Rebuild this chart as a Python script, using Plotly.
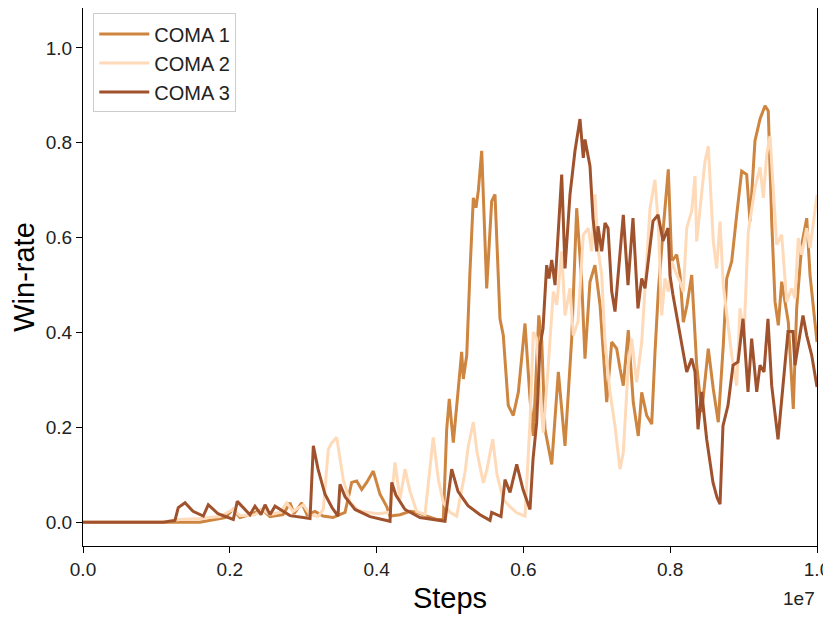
import numpy as np
import plotly.graph_objects as go

# steps in units of 1e6, win-rate values
coma1_x = [0, 1.594, 1.935, 2.044, 2.139, 2.275, 2.439, 2.548, 2.725, 2.820, 2.875, 2.980, 3.052,
           3.161, 3.270, 3.406, 3.570, 3.661, 3.729, 3.797, 3.865, 3.955, 4.046, 4.138, 4.183,
           4.319, 4.455, 4.546, 4.683, 4.819, 4.909, 4.955, 4.990, 5.045, 5.113, 5.159, 5.181,
           5.228, 5.272, 5.318, 5.354, 5.386, 5.432, 5.500, 5.568, 5.613, 5.681, 5.726, 5.794,
           5.862, 5.931, 6.022, 6.090, 6.135, 6.210, 6.250, 6.294, 6.339, 6.386, 6.476, 6.567,
           6.658, 6.726, 6.794, 6.839, 6.907, 6.975, 7.044, 7.135, 7.203, 7.271, 7.316, 7.361,
           7.429, 7.497, 7.565, 7.612, 7.680, 7.748, 7.793, 7.838, 7.906, 7.974, 8.020, 8.089,
           8.134, 8.179, 8.229, 8.293, 8.361, 8.429, 8.519, 8.587, 8.655, 8.723, 8.770, 8.838,
           8.906, 8.974, 9.042, 9.087, 9.155, 9.224, 9.292, 9.336, 9.383, 9.428, 9.473, 9.519,
           9.609, 9.677, 9.723, 9.792, 9.860, 9.905, 10.0]
coma1_y = [0, 0, 0.010, 0.027, 0.010, 0.016, 0.027, 0.012, 0.016, 0.041, 0.018, 0.041, 0.016,
           0.023, 0.013, 0.010, 0.021, 0.084, 0.087, 0.069, 0.084, 0.108, 0.059, 0.033, 0.013,
           0.016, 0.023, 0.021, 0.013, 0.006, 0.006, 0.196, 0.260, 0.168, 0.281, 0.359, 0.302,
           0.352, 0.528, 0.684, 0.663, 0.699, 0.783, 0.493, 0.677, 0.691, 0.429, 0.394, 0.246,
           0.225, 0.274, 0.419, 0.260, 0.182, 0.436, 0.381, 0.196, 0.161, 0.122, 0.317, 0.161,
           0.387, 0.662, 0.507, 0.345, 0.507, 0.542, 0.458, 0.253, 0.380, 0.366, 0.324, 0.288,
           0.405, 0.253, 0.182, 0.274, 0.225, 0.207, 0.359, 0.486, 0.620, 0.744, 0.550, 0.564,
           0.521, 0.422, 0.458, 0.521, 0.331, 0.232, 0.366, 0.281, 0.211, 0.373, 0.514, 0.550,
           0.648, 0.740, 0.733, 0.634, 0.804, 0.850, 0.878, 0.867, 0.634, 0.465, 0.415, 0.507,
           0.422, 0.239, 0.451, 0.585, 0.641, 0.521, 0.380]

coma2_x = [0, 1.049, 1.322, 1.594, 1.866, 2.044, 2.139, 2.343, 2.439, 2.548, 2.684, 2.775, 2.861,
           3.001, 3.093, 3.202, 3.274, 3.342, 3.388, 3.456, 3.546, 3.638, 3.747, 3.865, 4.019,
           4.183, 4.251, 4.319, 4.387, 4.455, 4.546, 4.659, 4.772, 4.841, 4.909, 5.000, 5.091,
           5.204, 5.249, 5.318, 5.368, 5.454, 5.504, 5.582, 5.640, 5.726, 5.817, 5.909, 6.022,
           6.090, 6.135, 6.181, 6.226, 6.271, 6.339, 6.408, 6.454, 6.522, 6.567, 6.635, 6.680,
           6.744, 6.816, 6.884, 6.930, 6.975, 7.021, 7.067, 7.112, 7.180, 7.248, 7.316, 7.361,
           7.429, 7.475, 7.543, 7.612, 7.657, 7.725, 7.793, 7.838, 7.884, 7.929, 7.974, 8.020,
           8.079, 8.134, 8.179, 8.225, 8.293, 8.338, 8.361, 8.429, 8.474, 8.519, 8.587, 8.633,
           8.679, 8.723, 8.770, 8.838, 8.906, 8.951, 9.006, 9.064, 9.155, 9.224, 9.269, 9.315,
           9.360, 9.406, 9.451, 9.519, 9.587, 9.655, 9.700, 9.745, 9.792, 9.860, 9.905, 10.0]
coma2_y = [0, 0, 0.006, 0.008, 0.012, 0.027, 0.014, 0.016, 0.027, 0.016, 0.021, 0.041, 0.023,
           0.037, 0.016, 0.012, 0.027, 0.154, 0.167, 0.179, 0.090, 0.042, 0.025, 0.021, 0.018,
           0.021, 0.126, 0.048, 0.112, 0.065, 0.023, 0.016, 0.179, 0.090, 0.042, 0.021, 0.013,
           0.105, 0.161, 0.211, 0.148, 0.083, 0.112, 0.175, 0.101, 0.048, 0.033, 0.020, 0.013,
           0.211, 0.401, 0.387, 0.271, 0.189, 0.331, 0.486, 0.458, 0.571, 0.436, 0.493, 0.394,
           0.423, 0.606, 0.620, 0.571, 0.691, 0.571, 0.521, 0.380, 0.274, 0.203, 0.112, 0.147,
           0.331, 0.387, 0.295, 0.380, 0.493, 0.662, 0.722, 0.627, 0.436, 0.514, 0.486, 0.550,
           0.525, 0.507, 0.486, 0.620, 0.656, 0.730, 0.592, 0.698, 0.761, 0.793, 0.592, 0.535,
           0.634, 0.500, 0.436, 0.352, 0.288, 0.451, 0.396, 0.613, 0.705, 0.748, 0.684, 0.775,
           0.814, 0.684, 0.585, 0.606, 0.465, 0.493, 0.472, 0.599, 0.564, 0.620, 0.578, 0.690]

coma3_x = [0, 1.090, 1.253, 1.298, 1.390, 1.499, 1.639, 1.707, 1.839, 2.048, 2.102, 2.275, 2.343,
           2.425, 2.480, 2.548, 2.616, 2.820, 3.048, 3.093, 3.138, 3.202, 3.297, 3.392, 3.474,
           3.501, 3.570, 3.706, 3.910, 4.183, 4.206, 4.264, 4.387, 4.591, 4.932, 5.023, 5.109,
           5.245, 5.409, 5.545, 5.568, 5.695, 5.749, 5.818, 5.909, 5.995, 6.090, 6.131, 6.181,
           6.226, 6.267, 6.317, 6.349, 6.386, 6.431, 6.522, 6.567, 6.635, 6.703, 6.771, 6.816,
           6.839, 6.907, 6.948, 6.999, 7.016, 7.067, 7.112, 7.153, 7.203, 7.248, 7.289, 7.361,
           7.425, 7.493, 7.561, 7.612, 7.657, 7.698, 7.766, 7.834, 7.902, 7.970, 7.997, 8.038,
           8.106, 8.157, 8.225, 8.293, 8.338, 8.379, 8.429, 8.497, 8.583, 8.638, 8.679, 8.719,
           8.787, 8.856, 8.924, 8.992, 9.060, 9.110, 9.179, 9.224, 9.278, 9.332, 9.383, 9.469,
           9.519, 9.605, 9.673, 9.700, 9.809, 9.860, 9.928, 10.0]
coma3_y = [0, 0, 0.004, 0.031, 0.041, 0.023, 0.013, 0.037, 0.018, 0.006, 0.044, 0.016, 0.034,
           0.016, 0.037, 0.016, 0.034, 0.014, 0.009, 0.008, 0.161, 0.112, 0.059, 0.031, 0.013,
           0.080, 0.054, 0.027, 0.012, 0.002, 0.084, 0.057, 0.027, 0.010, 0.002, 0.112, 0.065,
           0.035, 0.016, 0.004, 0.021, 0.012, 0.090, 0.063, 0.122, 0.069, 0.027, 0.133, 0.211,
           0.373, 0.408, 0.542, 0.514, 0.553, 0.500, 0.733, 0.535, 0.691, 0.783, 0.850, 0.768,
           0.807, 0.751, 0.641, 0.571, 0.624, 0.571, 0.631, 0.620, 0.487, 0.444, 0.521, 0.648,
           0.500, 0.641, 0.451, 0.514, 0.493, 0.550, 0.635, 0.648, 0.593, 0.620, 0.521, 0.479,
           0.423, 0.381, 0.317, 0.345, 0.317, 0.196, 0.275, 0.175, 0.084, 0.052, 0.038, 0.203,
           0.246, 0.331, 0.338, 0.429, 0.275, 0.387, 0.275, 0.331, 0.317, 0.429, 0.288, 0.175,
           0.254, 0.402, 0.402, 0.331, 0.436, 0.394, 0.352, 0.285]

series = [
    ("COMA 1", coma1_x, coma1_y, "#CD853F"),
    ("COMA 2", coma2_x, coma2_y, "#FFDAB9"),
    ("COMA 3", coma3_x, coma3_y, "#A0522D"),
]

tick_vals = [0, 2e6, 4e6, 6e6, 8e6, 1e7]
tick_text = ["0.0", "0.2", "0.4", "0.6", "0.8", "1.0"]

fig = go.Figure()
for name, xs, ys, color in series:
    fig.add_trace(go.Scatter(
        x=np.array(xs) * 1e6, y=ys, mode="lines", name=name,
        line=dict(color=color, width=3),
    ))

axis_common = dict(
    showline=True, linecolor="black", linewidth=1.3, mirror=True,
    ticks="outside", ticklen=6, tickwidth=1.2, tickcolor="black",
    showgrid=False, zeroline=False,
    tickfont=dict(family="Liberation Sans", size=19, color="#222222"),
)

# page body adds an 8px offset, so the figure is a bit smaller than the window
fig.update_layout(
    width=823, height=613,
    paper_bgcolor="white", plot_bgcolor="white",
    margin=dict(l=75, r=14, t=0, b=75),
    font=dict(family="Liberation Sans", color="black"),
    xaxis=dict(range=[0, 1e7], tickvals=tick_vals, ticktext=tick_text,
               title=dict(text="Steps", font=dict(size=29), standoff=8), **axis_common),
    yaxis=dict(range=[-0.05, 1.084], tickvals=[0, 0.2, 0.4, 0.6, 0.8, 1.0],
               ticktext=["0.0", "0.2", "0.4", "0.6", "0.8", "1.0"],
               title=dict(text="Win-rate", font=dict(size=29), standoff=10), **axis_common),
    legend=dict(x=0.014, y=0.99, xanchor="left", yanchor="top",
                bgcolor="rgba(255,255,255,0.8)", bordercolor="#cccccc", borderwidth=1,
                font=dict(family="Liberation Sans", size=20, color="#222222"),
                itemwidth=50, tracegroupgap=2),
    annotations=[dict(text="1e7", xref="paper", yref="paper", x=1.0, y=-0.075,
                      xanchor="right", yanchor="top", showarrow=False,
                      font=dict(family="Liberation Sans", size=19, color="#222222"))],
)

fig.write_html("out.html")
